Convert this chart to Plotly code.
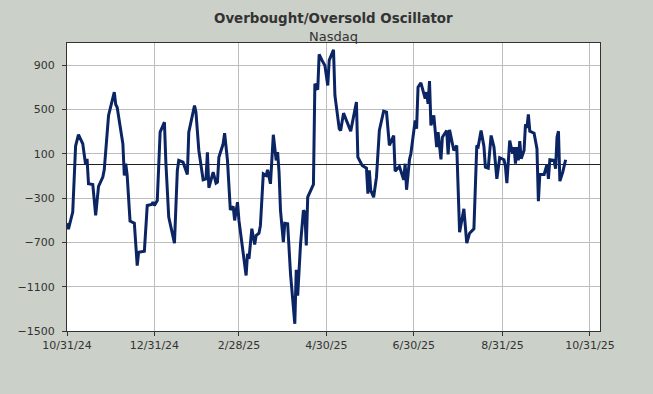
import plotly.graph_objects as go

dates = [
    "2024-10-31", "2024-11-01", "2024-11-04", "2024-11-06", "2024-11-08", "2024-11-11",
    "2024-11-13", "2024-11-14", "2024-11-15", "2024-11-18", "2024-11-20", "2024-11-22",
    "2024-11-25", "2024-11-26", "2024-11-29", "2024-12-01", "2024-12-03", "2024-12-04",
    "2024-12-05", "2024-12-09", "2024-12-10", "2024-12-11", "2024-12-12", "2024-12-14",
    "2024-12-17", "2024-12-19", "2024-12-20", "2024-12-24", "2024-12-25", "2024-12-26",
    "2024-12-29", "2024-12-30", "2024-12-31", "2025-01-02", "2025-01-04", "2025-01-07",
    "2025-01-08", "2025-01-10", "2025-01-14", "2025-01-16", "2025-01-17", "2025-01-20",
    "2025-01-23", "2025-01-24", "2025-01-28", "2025-01-29", "2025-01-31", "2025-02-03",
    "2025-02-05", "2025-02-06", "2025-02-07", "2025-02-09", "2025-02-10", "2025-02-12",
    "2025-02-13", "2025-02-14", "2025-02-17", "2025-02-18", "2025-02-20", "2025-02-22",
    "2025-02-24", "2025-02-25", "2025-02-27", "2025-02-28", "2025-03-02", "2025-03-05",
    "2025-03-06", "2025-03-07", "2025-03-09", "2025-03-10", "2025-03-11", "2025-03-12",
    "2025-03-14", "2025-03-15", "2025-03-17", "2025-03-19", "2025-03-20", "2025-03-22",
    "2025-03-23", "2025-03-24", "2025-03-26", "2025-03-27", "2025-03-28", "2025-03-29",
    "2025-03-31", "2025-04-01", "2025-04-03", "2025-04-05", "2025-04-08", "2025-04-09",
    "2025-04-10", "2025-04-12", "2025-04-14", "2025-04-15", "2025-04-16", "2025-04-17",
    "2025-04-21", "2025-04-22", "2025-04-24", "2025-04-25", "2025-04-27", "2025-04-29",
    "2025-05-01", "2025-05-02", "2025-05-05", "2025-05-06", "2025-05-09", "2025-05-10",
    "2025-05-12", "2025-05-14", "2025-05-17", "2025-05-21", "2025-05-22", "2025-05-25",
    "2025-05-28", "2025-05-29", "2025-05-30", "2025-05-31", "2025-06-02", "2025-06-04",
    "2025-06-06", "2025-06-09", "2025-06-11", "2025-06-13", "2025-06-16", "2025-06-17",
    "2025-06-20", "2025-06-23", "2025-06-24", "2025-06-25", "2025-06-27", "2025-06-28",
    "2025-07-01", "2025-07-02", "2025-07-03", "2025-07-05", "2025-07-07", "2025-07-08",
    "2025-07-09", "2025-07-10", "2025-07-11", "2025-07-12", "2025-07-14", "2025-07-16",
    "2025-07-17", "2025-07-19", "2025-07-20", "2025-07-23", "2025-07-24", "2025-07-25",
    "2025-07-27", "2025-07-28", "2025-07-30", "2025-08-01", "2025-08-04", "2025-08-06",
    "2025-08-08", "2025-08-11", "2025-08-13", "2025-08-14", "2025-08-16", "2025-08-18",
    "2025-08-19", "2025-08-21", "2025-08-23", "2025-08-25", "2025-08-27", "2025-08-29",
    "2025-09-01", "2025-09-02", "2025-09-03", "2025-09-05", "2025-09-07", "2025-09-08",
    "2025-09-09", "2025-09-10", "2025-09-11", "2025-09-12", "2025-09-13", "2025-09-15",
    "2025-09-16", "2025-09-17", "2025-09-18", "2025-09-19", "2025-09-22", "2025-09-24",
    "2025-09-25", "2025-09-26", "2025-09-29", "2025-10-01", "2025-10-02", "2025-10-03",
    "2025-10-06", "2025-10-07", "2025-10-08", "2025-10-09", "2025-10-10", "2025-10-12",
    "2025-10-14",
]

values = [
    -527, -580, -427, 170, 272, 190,
    0, 55, -171, -177, -457, -195,
    -111, -45, 446, 557, 656, 545,
    520, 190, -96, 10, -96, -508,
    -527, -909, -789, -780, -502, -367,
    -358, -337, -367, -322, 295, 385,
    24, -472, -707, -51, 40, 24,
    -87, 295, 536, 476, 130, -135,
    -126, 114, -207, -96, -66, -165,
    -156, 69, 190, 286, 40, -406,
    -376, -502, -337, -502, -713, -999,
    -803, -848, -577, -668, -719, -638,
    -617, -547, -81, -96, -45, -171,
    40, 272, 40, 114, -66, -412,
    -698, -527, -532, -984, -1435, -947,
    -1180, -713, -412, -427, -728, -292,
    -177, 732, 678, 997, 943, 897,
    717, 943, 1039, 626, 326, 310,
    467, 401, 304, 566, 69, -6,
    -30, -261, -50, -231, -292, -111,
    310, 485, 476, 175, 265, -57,
    -15, -135, 10, -225, 46, 100,
    401, 326, 701, 741, 642, 597,
    657, 552, 756, 356, 446, 160,
    295, 49, 250, 310, 94, 317,
    190, 130, 175, -608, -397, -707,
    -617, -577, 175, 165, 310, 166,
    -21, -30, 265, 160, -126, 64,
    46, -15, -165, 220, 100, 160,
    10, 160, 40, 214, 55, 130,
    365, 335, 455, 304, 286, 145,
    -328, -87, -87, 4, -126, 46,
    40, -35, 250, 304, -147, -66,
    46,
]

x_tick_dates = ["2024-10-31", "2024-12-31", "2025-02-28", "2025-04-30",
                "2025-06-30", "2025-08-31", "2025-10-31"]
x_tick_labels = ["10/31/24", "12/31/24", "2/28/25", "4/30/25",
                 "6/30/25", "8/31/25", "10/31/25"]
y_tick_values = [-1500, -1100, -700, -300, 100, 500, 900]

title_text = "Overbought/Oversold Oscillator"
subtitle_text = "Nasdaq"

FONT = "DejaVu Sans"
TEXT = "#333333"

fig = go.Figure()
fig.add_trace(go.Scatter(
    x=dates, y=values, mode="lines",
    line=dict(color="#0B2463", width=3),
    hoverinfo="x+y", showlegend=False,
))

fig.update_layout(
    width=653, height=394,
    margin=dict(l=67, r=53, t=43, b=63),
    paper_bgcolor="#CBD0C8",
    plot_bgcolor="#FFFFFF",
    font=dict(family=FONT, size=11, color=TEXT),
    xaxis=dict(
        type="date",
        range=["2024-10-31", "2025-11-07"],
        tickmode="array", tickvals=x_tick_dates, ticktext=x_tick_labels,
        showgrid=True, gridcolor="#BDBDBD", gridwidth=1,
        showline=True, linecolor="#333333", linewidth=1, mirror=True,
        ticks="outside", ticklen=4, tickcolor="#333333",
        tickfont=dict(family=FONT, size=11, color=TEXT),
        zeroline=False,
    ),
    yaxis=dict(
        range=[-1500, 1100],
        tickmode="array", tickvals=y_tick_values,
        showgrid=True, gridcolor="#BDBDBD", gridwidth=1,
        showline=True, linecolor="#333333", linewidth=1, mirror=True,
        ticks="outside", ticklen=4, tickcolor="#333333",
        ticklabelstandoff=5,
        tickfont=dict(family=FONT, size=11, color=TEXT),
        zeroline=True, zerolinecolor="#222222", zerolinewidth=1,
    ),
    annotations=[
        dict(text="<b>" + title_text + "</b>", xref="paper", yref="paper",
             x=0.5, y=(330.7 - 18.3) / 288, xanchor="center", yanchor="middle",
             showarrow=False, font=dict(family=FONT, size=13.4, color=TEXT)),
        dict(text=subtitle_text, xref="paper", yref="paper",
             x=0.5, y=(330.7 - 36) / 288, xanchor="center", yanchor="middle",
             showarrow=False, font=dict(family=FONT, size=13, color=TEXT)),
    ],
)

fig.write_html(
    "out.html",
    config={"displayModeBar": False},
    post_script="document.body.style.margin='0';document.body.style.overflow='hidden';",
)
